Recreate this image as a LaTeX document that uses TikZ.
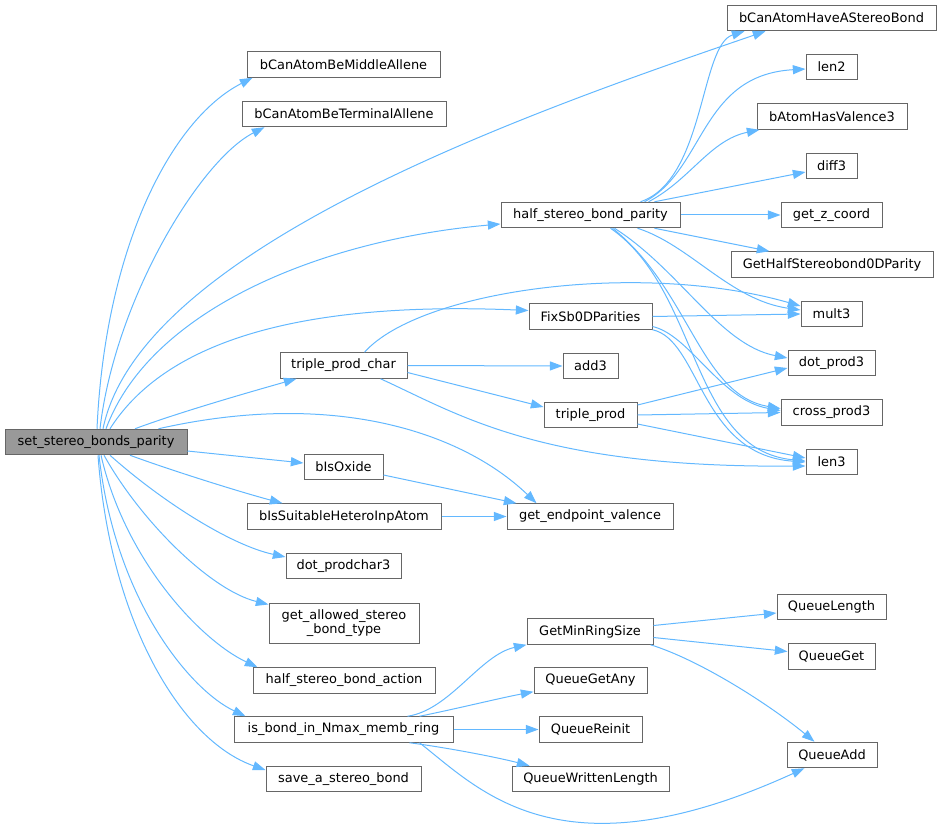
\documentclass[tikz,border=0pt]{standalone}
\usepackage{fontspec}
\setmainfont{DejaVu Sans}
\usetikzlibrary{calc}
\usetikzlibrary{arrows.meta}
\definecolor{edgeblue}{HTML}{63B8FF}
\definecolor{boxgray}{HTML}{666666}
\definecolor{rootfill}{HTML}{999999}

\begin{document}
\begin{tikzpicture}[x=0.75pt, y=-0.75pt,
  every node/.style={font=\fontsize{9.7}{11}\selectfont},
  func/.style={draw=boxgray, line width=0.75pt, fill=white, inner sep=0pt, minimum height=25.5*0.75pt, minimum width=#1*0.75pt},
  mainfunc/.style={func=#1, fill=rootfill},
  call/.style={draw=edgeblue, line width=0.75pt, -{Triangle[length=9.5pt, width=6.8pt]}}]
\useasboundingbox (0,0) rectangle (941,827);

\node[mainfunc=182] (SetStereoBondsParity) at (96,442) {set\_stereo\_bonds\_parity};

\node[func=193] (MiddleAllene) at (343.5,64.5) {bCanAtomBeMiddleAllene};
\node[func=204] (TerminalAllene) at (344,114) {bCanAtomBeTerminalAllene};
\node[func=127] (TripleProdChar) at (343.5,365.5) {triple\_prod\_char};
\node[func=79] (IsOxide) at (343.5,467) {bIsOxide};
\node[func=194] (SuitableHetero) at (344,516.5) {bIsSuitableHeteroInpAtom};
\node[func=115] (DotProdChar3) at (343.5,566) {dot\_prodchar3};
\node[func=150, minimum height=40*0.75pt, align=center] (AllowedBondType) at (344,623) {get\_allowed\_stereo\\\_bond\_type};
\node[func=182] (HalfBondAction) at (344,680.5) {half\_stereo\_bond\_action};
\node[func=219] (InNmaxRing) at (343.5,729.5) {is\_bond\_in\_Nmax\_memb\_ring};
\node[func=155] (SaveStereoBond) at (343.5,779) {save\_a\_stereo\_bond};

\node[func=179] (HalfBondParity) at (590.5,215) {half\_stereo\_bond\_parity};
\node[func=123] (FixParities) at (590.5,316.5) {FixSb0DParities};
\node[func=55] (Add3) at (590.5,366) {add3};
\node[func=93] (TripleProd) at (590.5,415) {triple\_prod};
\node[func=166] (EndpointValence) at (590,516.5) {get\_endpoint\_valence};
\node[func=126] (GetMinRingSize) at (590,631.5) {GetMinRingSize};
\node[func=113] (QueueGetAny) at (590.5,680.5) {QueueGetAny};
\node[func=103] (QueueReinit) at (590.5,729.5) {QueueReinit};
\node[func=157] (QueueWrittenLength) at (590.5,779) {QueueWrittenLength};

\node[func=209] (HaveStereoBond) at (831.5,18) {bCanAtomHaveAStereoBond};
\node[func=51] (Len2) at (831.5,67) {len2};
\node[func=150] (HasValence3) at (832,116.5) {bAtomHasValence3};
\node[func=51] (Diff3) at (831.5,166) {diff3};
\node[func=101] (GetZCoord) at (831.5,215) {get\_z\_coord};
\node[func=202] (HalfBond0DParity) at (832,264.5) {GetHalfStereobond0DParity};
\node[func=61] (Mult3) at (831.5,314) {mult3};
\node[func=87] (DotProd3) at (831.5,363) {dot\_prod3};
\node[func=101] (CrossProd3) at (831.5,412.5) {cross\_prod3};
\node[func=51] (Len3) at (831.5,462) {len3};
\node[func=109] (QueueLength) at (831.5,607) {QueueLength};
\node[func=87] (QueueGet) at (831.5,656.5) {QueueGet};
\node[func=90] (QueueAdd) at (832,755) {QueueAdd};

\draw[call] ($(SetStereoBondsParity.north)+(1,0)$) .. controls (105,250) and (170,120) .. ($(MiddleAllene.south west)+(6,0)$);
\draw[call] ($(SetStereoBondsParity.north)+(4,0)$) .. controls (115,300) and (200,160) .. ($(TerminalAllene.south west)+(23,0)$);
\draw[call] ($(SetStereoBondsParity.north)+(7,0)$) .. controls (140,250) and (520,115) .. ($(HaveStereoBond.south west)+(39,0)$);
\draw[call] ($(SetStereoBondsParity.north)+(10,0)$) .. controls (150,310) and (320,240) .. ($(HalfBondParity.west)+(0,9)$);
\draw[call] ($(SetStereoBondsParity.north)+(14,0)$) .. controls (160,350) and (280,300) .. ($(FixParities.west)+(0,-6)$);
\draw[call] ($(SetStereoBondsParity.north)+(39,0)$) .. controls (180,412) and (250,392) .. ($(TripleProdChar.south west)+(17,0)$);
\draw[call] ($(SetStereoBondsParity.north east)+(-29,0)$) .. controls (330,390) and (460,430) .. ($(EndpointValence.north west)+(30,0)$);
\draw[call] ($(SetStereoBondsParity.east)+(0,9)$) -- ($(IsOxide.west)+(0,-4)$);
\draw[call] ($(SetStereoBondsParity.south)+(34,0)$) .. controls (170,470) and (240,492) .. ($(SuitableHetero.north west)+(36,0)$);
\draw[call] ($(SetStereoBondsParity.south)+(14,0)$) .. controls (160,500) and (230,545) .. ($(DotProdChar3.west)+(0,-9)$);
\draw[call] ($(SetStereoBondsParity.south)+(8,0)$) .. controls (140,520) and (210,590) .. ($(AllowedBondType.north west)+(0,2)$);
\draw[call] ($(SetStereoBondsParity.south)+(5,0)$) .. controls (125,560) and (200,640) .. ($(HalfBondAction.north west)+(5,0)$);
\draw[call] ($(SetStereoBondsParity.south)+(3,0)$) .. controls (115,600) and (190,690) .. ($(InNmaxRing.north west)+(12,0)$);
\draw[call] ($(SetStereoBondsParity.south)+(2,0)$) .. controls (110,620) and (180,740) .. ($(SaveStereoBond.west)+(0,-9)$);

\draw[call] ($(TripleProdChar.north)+(21,0)$) .. controls (420,290) and (640,260) .. ($(Mult3.west)+(0,-8)$);
\draw[call] (TripleProdChar.east) -- (Add3.west);
\draw[call] ($(TripleProdChar.east)+(0,7)$) -- ($(TripleProd.west)+(0,-8)$);
\draw[call] ($(TripleProdChar.south)+(37,0)$) .. controls (460,415) and (540,468) .. ($(Len3.west)+(0,4)$);

\draw[call] ($(HalfBondParity.north)+(50,0)$) .. controls (705,180) and (700,45) .. ($(HaveStereoBond.south west)+(18,0)$);
\draw[call] ($(HalfBondParity.north)+(54,0)$) .. controls (705,170) and (700,75) .. ($(Len2.west)+(0,2)$);
\draw[call] ($(HalfBondParity.north)+(58,0)$) .. controls (690,180) and (710,140) .. ($(HasValence3.south west)+(3,0)$);
\draw[call] ($(HalfBondParity.north)+(64,0)$) -- ($(Diff3.west)+(0,6)$);
\draw[call] (HalfBondParity.east) -- (GetZCoord.west);
\draw[call] ($(HalfBondParity.south)+(64,0)$) -- ($(HalfBond0DParity.north west)+(39,0)$);
\draw[call] ($(HalfBondParity.south)+(47,0)$) .. controls (690,245) and (730,300) .. ($(Mult3.west)+(0,-4)$);
\draw[call] ($(HalfBondParity.south)+(24,0)$) .. controls (680,270) and (720,345) .. ($(DotProd3.west)+(0,-5)$);
\draw[call] ($(HalfBondParity.south)+(22,0)$) .. controls (690,290) and (700,395) .. ($(CrossProd3.west)+(0,-4)$);
\draw[call] ($(HalfBondParity.south)+(20,0)$) .. controls (700,290) and (690,450) .. ($(Len3.west)+(0,-1)$);

\draw[call] (FixParities.east) -- (Mult3.west);
\draw[call] ($(FixParities.east)+(0,10)$) .. controls (690,335) and (720,400) .. ($(CrossProd3.west)+(0,-2)$);
\draw[call] (FixParities.south east) .. controls (700,340) and (700,455) .. (Len3.west);

\draw[call] ($(TripleProd.east)+(0,-10)$) -- ($(DotProd3.west)+(0,5)$);
\draw[call] (TripleProd.east) -- (CrossProd3.west);
\draw[call] ($(TripleProd.east)+(0,9)$) -- ($(Len3.west)+(0,-4)$);

\draw[call] ($(IsOxide.east)+(0,8)$) -- ($(EndpointValence.north west)+(10,0)$);
\draw[call] (SuitableHetero.east) -- (EndpointValence.west);

\draw[call] ($(InNmaxRing.north)+(64,0)$) .. controls (450,710) and (480,655) .. (GetMinRingSize.south west);
\draw[call] ($(InNmaxRing.north)+(76,0)$) .. controls (460,708) and (500,698) .. ($(QueueGetAny.south west)+(0,-2)$);
\draw[call] (InNmaxRing.east) -- (QueueReinit.west);
\draw[call] ($(InNmaxRing.south)+(66,0)$) .. controls (450,748) and (500,758) .. ($(QueueWrittenLength.north west)+(18,0)$);
\draw[call] ($(InNmaxRing.south)+(76,0)$) .. controls (480,790) and (560,880) .. ($(QueueAdd.south west)+(18,0)$);

\draw[call] ($(GetMinRingSize.east)+(0,-6)$) -- ($(QueueLength.west)+(0,6)$);
\draw[call] ($(GetMinRingSize.east)+(0,6)$) -- ($(QueueGet.west)+(0,-5)$);
\draw[call] ($(GetMinRingSize.south east)+(-3,0)$) .. controls (700,660) and (770,705) .. ($(QueueAdd.north west)+(28,0)$);
\end{tikzpicture}
\end{document}
